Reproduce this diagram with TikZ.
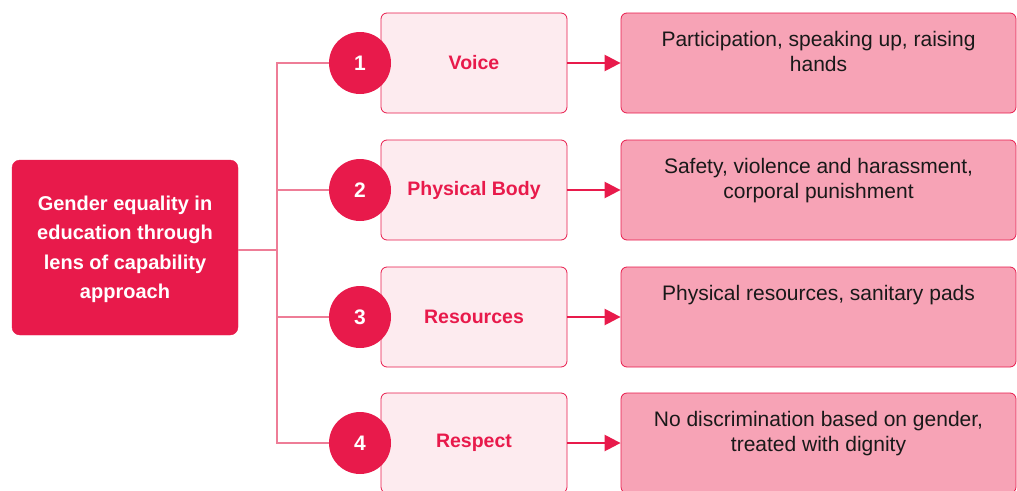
\documentclass[tikz,border=0pt]{standalone}
\usepackage{fontspec}
\setmainfont{Liberation Sans}
\usetikzlibrary{positioning,arrows.meta}

\definecolor{crimson}{HTML}{E81A4B}
\definecolor{blush}{HTML}{FDEBEF}
\definecolor{rosefill}{HTML}{F7A3B6}
\definecolor{branch}{HTML}{EE7D97}

\tikzset{
  mainbox/.style={fill=crimson, draw=crimson, rounded corners=8pt, minimum width=226pt,
    minimum height=175pt, text=white, align=center,
    font=\fontsize{20}{29.5}\selectfont\bfseries},
  numdot/.style={circle, fill=crimson, minimum size=62pt, inner sep=0pt, text=white,
    font=\fontsize{21}{21}\selectfont\bfseries},
  labelbox/.style={fill=blush, draw=crimson, line width=0.8pt, rounded corners=6pt,
    minimum width=186pt, minimum height=100pt, text=crimson,
    font=\fontsize{19.5}{19.5}\selectfont\bfseries},
  descbox/.style={fill=rosefill, draw=crimson, line width=0.8pt, rounded corners=6pt,
    minimum width=395pt, minimum height=100pt},
  desctext/.style={align=center, text=black!90, font=\fontsize{21}{25}\selectfont},
  tree/.style={draw=branch, line width=1.2pt},
  link/.style={draw=crimson, line width=2.4pt, -{Triangle[length=16pt,width=16pt]}}
}

\begin{document}
\begin{tikzpicture}[x=1pt, y=-1pt]
\useasboundingbox (0,0) rectangle (1017,490);
\clip (0,0) rectangle (1017,490);

% root box on the left
\node[mainbox] (main) at (125,247.5) {};
\node[mainbox, draw=none, fill=none, yshift=-2pt] (mainlabel) at (main) {Gender equality in\\education through\\lens of capability\\approach};
\coordinate (trunk) at (277,250);
\draw[tree] (trunk -| main.east) -- (trunk);

% one row per capability
\foreach \i/\y/\lab/\desc in {
  1/63/Voice/{Participation, speaking up, raising\\hands},
  2/190/Physical Body/{Safety, violence and harassment,\\corporal punishment},
  3/317/Resources/{Physical resources, sanitary pads},
  4/443/Respect/{No discrimination based on gender,\\treated with dignity}}{
  \node[labelbox] (m\i) at (474,\y) {\lab};
  \node[numdot] (c\i) at (360,\y) {\i};
  \node[descbox] (d\i) at (818.5,\y) {};
  \node[desctext, below=15pt of d\i.north] (t\i) {\desc};
  \draw[tree] (trunk) |- (c\i.west);
  \draw[link] (m\i.east) -- (d\i.west);
}
\end{tikzpicture}
\end{document}
